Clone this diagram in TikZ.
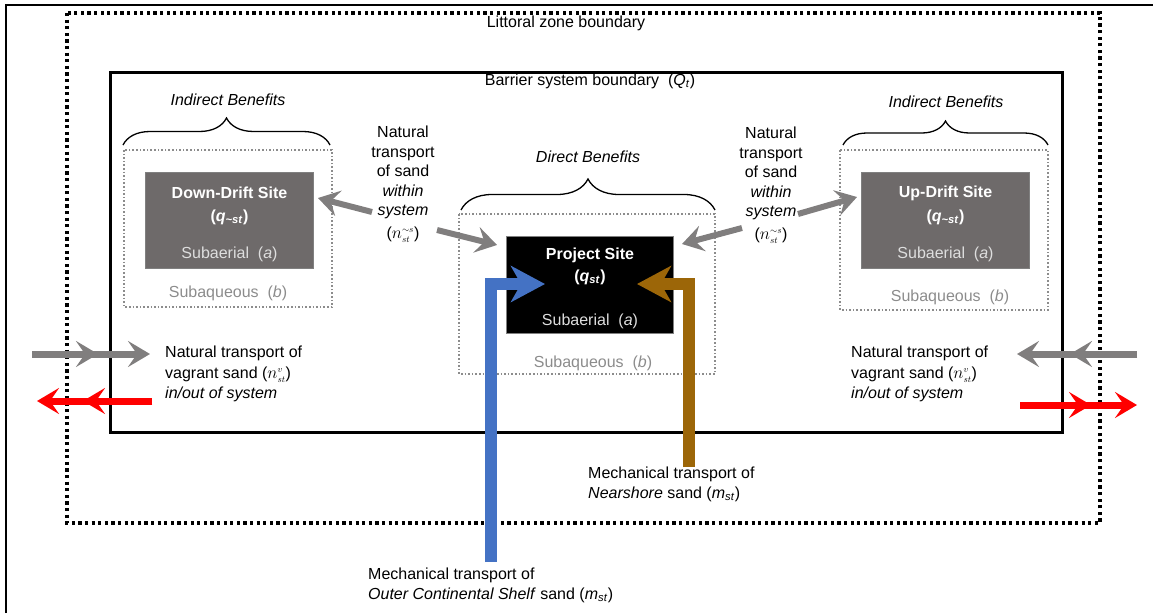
\documentclass[tikz,border=0pt]{standalone}
\usepackage{fontspec}
\setmainfont{Liberation Sans}
\usepackage{amsmath}
\usepackage{xcolor}
\usetikzlibrary{positioning}
\usetikzlibrary{arrows, arrows.meta}
\usetikzlibrary{decorations.pathreplacing}

\definecolor{sitegray}{RGB}{110,106,106}
\definecolor{flowgray}{RGB}{128,126,126}
\definecolor{shelfblue}{RGB}{68,114,196}
\definecolor{shorebrown}{RGB}{156,102,8}
\definecolor{aquagray}{RGB}{140,140,140}
\definecolor{aerialgray}{RGB}{222,222,222}

% n with small scripts, as in the sand budget terms
\newcommand{\nsand}[1]{{\fontsize{18}{19.5}\selectfont$n^{\scriptscriptstyle #1}_{\scriptscriptstyle st}$}}

\tikzset{
  every node/.style={font=\fontsize{16}{19.5}\selectfont, inner sep=0pt},
  site/.style={draw=gray, line width=1pt, anchor=north west,
    minimum width=168pt, minimum height=96pt},
  zone/.style={draw=aquagray, dotted, line width=1.6pt},
  benefit/.style={decorate, decoration={brace, amplitude=#1}, line width=1.3pt},
  flow/.style={flowgray, line width=6pt, -{Stealth[length=21pt, width=26pt, inset=8pt]}},
  vagrant/.style={line width=7pt, -{Stealth[length=22pt, width=26pt, inset=9pt]}},
  pipe/.style={line width=12pt, line join=miter, -{Stealth[length=34pt, width=36pt, inset=10pt]}},
}

\begin{document}
\begin{tikzpicture}[x=1pt, y=-1pt]
  \useasboundingbox (0,0) rectangle (1153,613);

  % frame and boundaries
  \draw[line width=1.5pt] (6,613) |- (1153,5);
  \draw[line width=3.2pt, dash pattern=on 3.2pt off 3.4pt] (67,13) rectangle (1100,523);
  \draw[line width=3pt] (110,72) rectangle (1062,432);
  \node (littoral) at (566,23) {Littoral zone boundary};
  \node (barrier) at (590,81) {Barrier system boundary\ \ (\textit{Q}\textsubscript{\textit{t}})};

  % down-drift site
  \draw[zone] (124,150) rectangle (332,307);
  \draw[benefit=27pt] (123,145) -- (330,145);
  \node (dbenefit) at (228,100) {\textit{Indirect Benefits}};
  \node[site, fill=sitegray] (down) at (145,172) {};
  \node[text=white] at ([yshift=-21pt]down.north) {\textbf{Down-Drift Site}};
  \node[text=white] at ([yshift=-45pt]down.north) {\textbf{(\textit{q}\textsubscript{\textit{\textasciitilde st}})}};
  \node[text=aerialgray] at ([yshift=15pt]down.south) {Subaerial\ \ (\textit{a})};
  \node[text=aquagray] (daqua) at (228,293) {Subaqueous\ \ (\textit{b})};

  % project site
  \draw[zone] (459,214) rectangle (715,374);
  \draw[benefit=31pt] (461,210) -- (715,210);
  \node (pbenefit) at (588,157) {\textit{Direct Benefits}};
  \node[site, fill=black, minimum width=167pt, minimum height=97pt] (project) at (506,236) {};
  \node[text=white] at ([yshift=-19pt]project.north) {\textbf{Project Site}};
  \node[text=white] at ([yshift=-41pt]project.north) {\textbf{(\textit{q}\textsubscript{\textit{st}})}};
  \node[text=aerialgray] at ([yshift=13pt]project.south) {Subaerial\ \ (\textit{a})};
  \node[text=aquagray] (paqua) at (593,363) {Subaqueous\ \ (\textit{b})};

  % up-drift site
  \draw[zone] (840,150) rectangle (1048,310);
  \draw[benefit=24pt] (843,145) -- (1048,145);
  \node (ubenefit) at (946,102) {\textit{Indirect Benefits}};
  \node[site, fill=sitegray] (up) at (861,172) {};
  \node[text=white] at ([yshift=-21pt]up.north) {\textbf{Up-Drift Site}};
  \node[text=white] at ([yshift=-45pt]up.north) {\textbf{(\textit{q}\textsubscript{\textit{\textasciitilde st}})}};
  \node[text=aerialgray] at ([yshift=15pt]up.south) {Subaerial\ \ (\textit{a})};
  \node[text=aquagray] (uaqua) at (950,297) {Subaqueous\ \ (\textit{b})};

  % natural transport within system
  \node[align=center, anchor=north] (lwithin) at (403,126)
    {Natural\\transport\\of sand\\\textit{within}\\\textit{system}\\[3pt](\nsand{\sim s})};
  \node[align=center, anchor=north] (rwithin) at (771,127)
    {Natural\\transport\\of sand\\\textit{within}\\\textit{system}\\[3pt](\nsand{\sim s})};
  \coordinate (l1) at (372,212);
  \coordinate (l2) at (437,230);
  \coordinate (r1) at (742,228);
  \coordinate (r2) at (798,214);
  \draw[flow] (l1) -- (318,198);
  \draw[flow] (l2) -- (497,245);
  \draw[flow] (r1) -- (682,244);
  \draw[flow] (r2) -- (857,197);

  % vagrant sand in/out of system
  \node[align=left, anchor=north west] (lvagrant) at (165,346)
    {Natural transport of\\[1pt]vagrant sand (\nsand{v})\\[1pt]\textit{in/out of system}};
  \node[align=left, anchor=north west] (rvagrant) at (851,346)
    {Natural transport of\\[1pt]vagrant sand (\nsand{v})\\[1pt]\textit{in/out of system}};
  \coordinate (lin) at (32,354);
  \coordinate (lout) at (152,401);
  \coordinate (rin) at (1137,354);
  \coordinate (rout) at (1020,405);
  \draw[vagrant, flowgray] (lin) -- (150,354);
  \draw[vagrant, flowgray] (lin) -- (98,354);
  \draw[vagrant, red] (lout) -- (37,401);
  \draw[vagrant, red] (lout) -- (83,401);
  \draw[vagrant, flowgray] (rin) -- (1017,354);
  \draw[vagrant, flowgray] (rin) -- (1070,354);
  \draw[vagrant, red] (rout) -- (1137,405);
  \draw[vagrant, red] (rout) -- (1091,405);

  % mechanical transport
  \coordinate (shelf) at (491,562);
  \coordinate (shore) at (689,467);
  \draw[pipe, shelfblue] (shelf) |- (545,284);
  \draw[pipe, shorebrown] (shore) |- (637,284);
  \node[align=left, anchor=north west] (nearshore) at (588,467)
    {Mechanical transport of\\\textit{Nearshore} sand (\textit{m}\textsubscript{\textit{st}})};
  \node[align=left, anchor=north west] (ocs) at (368,568)
    {Mechanical transport of\\\textit{Outer Continental Shelf} sand (\textit{m}\textsubscript{\textit{st}})};
\end{tikzpicture}
\end{document}
